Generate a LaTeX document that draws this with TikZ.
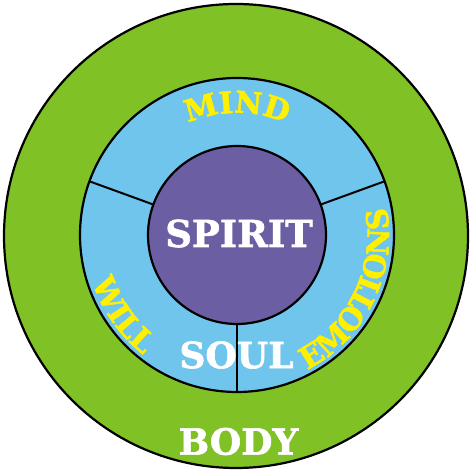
\documentclass[tikz,border=0pt]{standalone}
\usepackage{fontspec}
\setmainfont{DejaVu Serif}
\newfontfamily\heavyfont[FakeBold=1.6]{DejaVu Serif}
\usetikzlibrary{decorations.text}
\definecolor{bodygreen}{RGB}{128,193,38}
\definecolor{soulblue}{RGB}{112,197,236}
\definecolor{spiritpurple}{RGB}{107,94,163}
\definecolor{labelyellow}{RGB}{255,240,0}
\newcommand{\yellowfont}{\heavyfont\bfseries\fontsize{30}{30}\selectfont}
\begin{document}
\begin{tikzpicture}[x=1pt,y=1pt,
  disc/.style={circle, draw=black, line width=2.2pt, inner sep=0pt, outer sep=0pt},
  whitelabel/.style={text=white, inner sep=0pt},
  divider/.style={draw=black, line width=2pt},
  arclabel/.style={decorate, decoration={text along path, text align=center, text color=labelyellow, text={|\yellowfont|#1}}}]
\useasboundingbox (0,0) rectangle (474,474);
\coordinate (C) at (237,239);
\node[disc, fill=bodygreen, minimum size=464] (body) at (236,238) {};
\node[disc, fill=soulblue, minimum size=314] (ring) at (C) {};
\node[disc, fill=spiritpurple, minimum size=178] (spirit) at (C) {};
\draw[divider] (spirit.160) -- (ring.160);
\draw[divider] (spirit.20) -- (ring.20);
\draw[divider] (spirit.270) -- (ring.270);
\node[whitelabel, font=\heavyfont\bfseries\fontsize{37}{37}\selectfont] (spirittext) at (239,240.5) {SPIRIT};
\node[whitelabel, font=\heavyfont\bfseries\fontsize{36}{36}\selectfont] (soultext) at (236.5,119) {SOUL};
\node[whitelabel, font=\heavyfont\bfseries\fontsize{36}{36}\selectfont] (bodytext) at (238.5,32.5) {BODY};
\path[arclabel=MIND] ([shift={(150:122)}]C) arc[start angle=150, end angle=30, radius=122];
\path[arclabel=WILL] ([shift={(180:152)}]C) arc[start angle=180, end angle=250, radius=152];
\path[arclabel=EMOTIONS] ([shift={(-80:152)}]C) arc[start angle=-80, end angle=28, radius=152];
\end{tikzpicture}
\end{document}
